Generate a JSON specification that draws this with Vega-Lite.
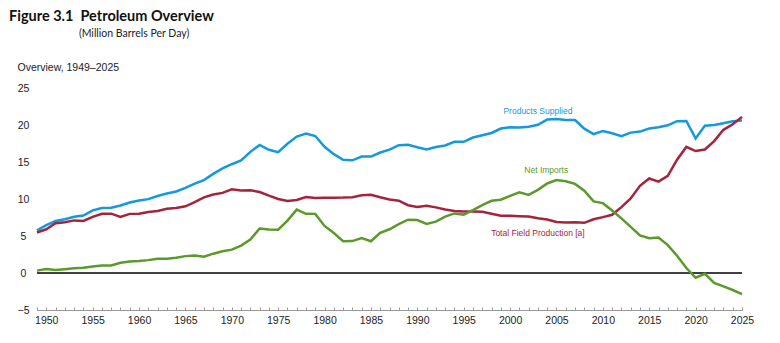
{
  "$schema": "https://vega.github.io/schema/vega-lite/v6.json",
  "width": 705,
  "height": 222,
  "autosize": {"type": "none"},
  "padding": {"left": 37, "top": 88, "right": 38, "bottom": 33},
  "background": "white",
  "config": {"view": {"stroke": null}, "font": "Liberation Sans"},
  "title": {
    "text": "Figure 3.1\u00a0\u00a0Petroleum Overview",
    "subtitle": "\u200b\u00a0\u00a0\u00a0\u00a0\u00a0\u00a0\u00a0\u00a0\u00a0\u00a0\u00a0\u00a0\u00a0\u00a0\u00a0\u00a0\u00a0\u00a0\u00a0\u00a0\u00a0\u00a0\u00a0\u00a0\u00a0\u00a0(Million Barrels Per Day)",
    "anchor": "start",
    "frame": "group",
    "dx": -28,
    "offset": 22,
    "font": "Lato",
    "fontSize": 14.5,
    "fontWeight": "bold",
    "color": "#111111",
    "subtitleFont": "Lato",
    "subtitleFontSize": 10.5,
    "subtitleColor": "#222222",
    "subtitlePadding": 4
  },
  "datasets": {
    "oil": [
      {"year": 1949, "ps": 5.76, "tfp": 5.48, "ni": 0.32},
      {"year": 1950, "ps": 6.46, "tfp": 5.91, "ni": 0.55},
      {"year": 1951, "ps": 7.02, "tfp": 6.72, "ni": 0.42},
      {"year": 1952, "ps": 7.27, "tfp": 6.87, "ni": 0.52},
      {"year": 1953, "ps": 7.6, "tfp": 7.11, "ni": 0.63},
      {"year": 1954, "ps": 7.76, "tfp": 7.03, "ni": 0.7},
      {"year": 1955, "ps": 8.46, "tfp": 7.58, "ni": 0.88},
      {"year": 1956, "ps": 8.78, "tfp": 8.01, "ni": 1.02},
      {"year": 1957, "ps": 8.81, "tfp": 8.02, "ni": 1.01},
      {"year": 1958, "ps": 9.12, "tfp": 7.58, "ni": 1.39},
      {"year": 1959, "ps": 9.53, "tfp": 7.99, "ni": 1.56},
      {"year": 1960, "ps": 9.8, "tfp": 8.0, "ni": 1.61},
      {"year": 1961, "ps": 9.98, "tfp": 8.23, "ni": 1.74},
      {"year": 1962, "ps": 10.4, "tfp": 8.39, "ni": 1.91},
      {"year": 1963, "ps": 10.74, "tfp": 8.67, "ni": 1.91},
      {"year": 1964, "ps": 11.02, "tfp": 8.78, "ni": 2.06},
      {"year": 1965, "ps": 11.51, "tfp": 9.01, "ni": 2.28},
      {"year": 1966, "ps": 12.08, "tfp": 9.58, "ni": 2.37},
      {"year": 1967, "ps": 12.56, "tfp": 10.22, "ni": 2.19},
      {"year": 1968, "ps": 13.39, "tfp": 10.6, "ni": 2.61},
      {"year": 1969, "ps": 14.14, "tfp": 10.83, "ni": 2.93},
      {"year": 1970, "ps": 14.7, "tfp": 11.3, "ni": 3.16},
      {"year": 1971, "ps": 15.21, "tfp": 11.16, "ni": 3.7},
      {"year": 1972, "ps": 16.37, "tfp": 11.18, "ni": 4.52},
      {"year": 1973, "ps": 17.31, "tfp": 10.95, "ni": 6.02},
      {"year": 1974, "ps": 16.65, "tfp": 10.46, "ni": 5.89},
      {"year": 1975, "ps": 16.32, "tfp": 10.01, "ni": 5.85},
      {"year": 1976, "ps": 17.46, "tfp": 9.74, "ni": 7.09},
      {"year": 1977, "ps": 18.43, "tfp": 9.86, "ni": 8.57},
      {"year": 1978, "ps": 18.85, "tfp": 10.27, "ni": 8.0},
      {"year": 1979, "ps": 18.51, "tfp": 10.14, "ni": 7.99},
      {"year": 1980, "ps": 17.06, "tfp": 10.17, "ni": 6.36},
      {"year": 1981, "ps": 16.06, "tfp": 10.18, "ni": 5.4},
      {"year": 1982, "ps": 15.3, "tfp": 10.2, "ni": 4.3},
      {"year": 1983, "ps": 15.23, "tfp": 10.25, "ni": 4.31},
      {"year": 1984, "ps": 15.73, "tfp": 10.51, "ni": 4.72},
      {"year": 1985, "ps": 15.73, "tfp": 10.58, "ni": 4.29},
      {"year": 1986, "ps": 16.28, "tfp": 10.23, "ni": 5.44},
      {"year": 1987, "ps": 16.67, "tfp": 9.94, "ni": 5.91},
      {"year": 1988, "ps": 17.28, "tfp": 9.77, "ni": 6.59},
      {"year": 1989, "ps": 17.33, "tfp": 9.16, "ni": 7.2},
      {"year": 1990, "ps": 16.99, "tfp": 8.91, "ni": 7.16},
      {"year": 1991, "ps": 16.71, "tfp": 9.08, "ni": 6.63},
      {"year": 1992, "ps": 17.03, "tfp": 8.87, "ni": 6.94},
      {"year": 1993, "ps": 17.24, "tfp": 8.58, "ni": 7.62},
      {"year": 1994, "ps": 17.72, "tfp": 8.39, "ni": 8.05},
      {"year": 1995, "ps": 17.72, "tfp": 8.32, "ni": 7.89},
      {"year": 1996, "ps": 18.31, "tfp": 8.3, "ni": 8.5},
      {"year": 1997, "ps": 18.62, "tfp": 8.27, "ni": 9.16},
      {"year": 1998, "ps": 18.92, "tfp": 8.01, "ni": 9.76},
      {"year": 1999, "ps": 19.52, "tfp": 7.73, "ni": 9.91},
      {"year": 2000, "ps": 19.7, "tfp": 7.73, "ni": 10.42},
      {"year": 2001, "ps": 19.65, "tfp": 7.67, "ni": 10.9},
      {"year": 2002, "ps": 19.76, "tfp": 7.63, "ni": 10.55},
      {"year": 2003, "ps": 20.03, "tfp": 7.4, "ni": 11.24},
      {"year": 2004, "ps": 20.73, "tfp": 7.23, "ni": 12.1},
      {"year": 2005, "ps": 20.8, "tfp": 6.9, "ni": 12.55},
      {"year": 2006, "ps": 20.69, "tfp": 6.83, "ni": 12.39},
      {"year": 2007, "ps": 20.68, "tfp": 6.86, "ni": 12.04},
      {"year": 2008, "ps": 19.5, "tfp": 6.78, "ni": 11.11},
      {"year": 2009, "ps": 18.77, "tfp": 7.26, "ni": 9.67},
      {"year": 2010, "ps": 19.18, "tfp": 7.55, "ni": 9.44},
      {"year": 2011, "ps": 18.88, "tfp": 7.87, "ni": 8.45},
      {"year": 2012, "ps": 18.49, "tfp": 8.9, "ni": 7.39},
      {"year": 2013, "ps": 18.97, "tfp": 10.07, "ni": 6.24},
      {"year": 2014, "ps": 19.11, "tfp": 11.78, "ni": 5.07},
      {"year": 2015, "ps": 19.53, "tfp": 12.77, "ni": 4.71},
      {"year": 2016, "ps": 19.69, "tfp": 12.35, "ni": 4.8},
      {"year": 2017, "ps": 19.96, "tfp": 13.14, "ni": 3.77},
      {"year": 2018, "ps": 20.51, "tfp": 15.31, "ni": 2.34},
      {"year": 2019, "ps": 20.54, "tfp": 17.04, "ni": 0.67},
      {"year": 2020, "ps": 18.19, "tfp": 16.48, "ni": -0.64},
      {"year": 2021, "ps": 19.89, "tfp": 16.69, "ni": -0.1},
      {"year": 2022, "ps": 20.01, "tfp": 17.83, "ni": -1.33},
      {"year": 2023, "ps": 20.25, "tfp": 19.35, "ni": -1.8},
      {"year": 2024, "ps": 20.5, "tfp": 20.1, "ni": -2.3},
      {"year": 2025, "ps": 20.6, "tfp": 21.1, "ni": -2.85}
    ],
    "labels": [
      {"series": "ps", "text": "Products Supplied", "year": 2003.0, "value": 21.9},
      {"series": "ni", "text": "Net Imports", "year": 2003.9, "value": 13.9},
      {"series": "tfp", "text": "Total Field Production [a]", "year": 2003.0, "value": 5.4}
    ],
    "zero": [
      {"year": 1949, "year_end": 2025, "value": 0}
    ]
  },
  "encoding": {
    "x": {
      "field": "year",
      "type": "quantitative",
      "scale": {"domain": [1949, 2025], "nice": false, "zero": false},
      "axis": {
        "title": null,
        "values": [1949,1950,1951,1952,1953,1954,1955,1956,1957,1958,1959,1960,1961,1962,1963,1964,1965,1966,1967,1968,1969,1970,1971,1972,1973,1974,1975,1976,1977,1978,1979,1980,1981,1982,1983,1984,1985,1986,1987,1988,1989,1990,1991,1992,1993,1994,1995,1996,1997,1998,1999,2000,2001,2002,2003,2004,2005,2006,2007,2008,2009,2010,2011,2012,2013,2014,2015,2016,2017,2018,2019,2020,2021,2022,2023,2024,2025],
        "labelExpr": "datum.value % 5 == 0 ? datum.label : ''",
        "format": "d",
        "labelOverlap": false,
        "labelFlush": false,
        "grid": false,
        "domainColor": "#999999",
        "tickColor": "#999999",
        "tickSize": -3,
        "labelPadding": 8,
        "labelFontSize": 10.5,
        "labelColor": "#222222",
        "labelFont": "Liberation Sans"
      }
    },
    "y": {
      "field": "value",
      "type": "quantitative",
      "scale": {"domain": [-5, 25], "nice": false, "zero": false},
      "axis": {
        "title": "Overview, 1949\u20132025",
        "titleAngle": 0,
        "titleAlign": "left",
        "titleBaseline": "middle",
        "titleX": -20,
        "titleY": -21,
        "titleFontWeight": "normal",
        "titleFontSize": 10.5,
        "titleFont": "Liberation Sans",
        "titleColor": "#222222",
        "values": [-5, 0, 5, 10, 15, 20, 25],
        "labelOverlap": false,
        "grid": false,
        "domain": false,
        "ticks": false,
        "labelAlign": "center",
        "labelPadding": 14,
        "labelFontSize": 10.5,
        "labelColor": "#222222",
        "labelFont": "Liberation Sans"
      }
    }
  },
  "layer": [
    {
      "data": {"name": "zero"},
      "mark": {"type": "rule", "color": "#000000", "strokeWidth": 1.5},
      "encoding": {
        "x2": {"field": "year_end"}
      }
    },
    {
      "data": {"name": "oil"},
      "transform": [{"fold": ["ps", "tfp", "ni"], "as": ["series", "value"]}],
      "mark": {"type": "line", "strokeWidth": 2.5},
      "encoding": {
        "color": {
          "field": "series",
          "type": "nominal",
          "scale": {"domain": ["ps", "tfp", "ni"], "range": ["#1499dc", "#a6233c", "#5a9a2a"]},
          "legend": null
        }
      }
    },
    {
      "data": {"name": "labels"},
      "mark": {"type": "text", "fontSize": 8.5, "font": "Liberation Sans", "align": "center", "baseline": "middle"},
      "encoding": {
        "text": {"field": "text"},
        "color": {"field": "series", "type": "nominal", "legend": null}
      }
    }
  ]
}
